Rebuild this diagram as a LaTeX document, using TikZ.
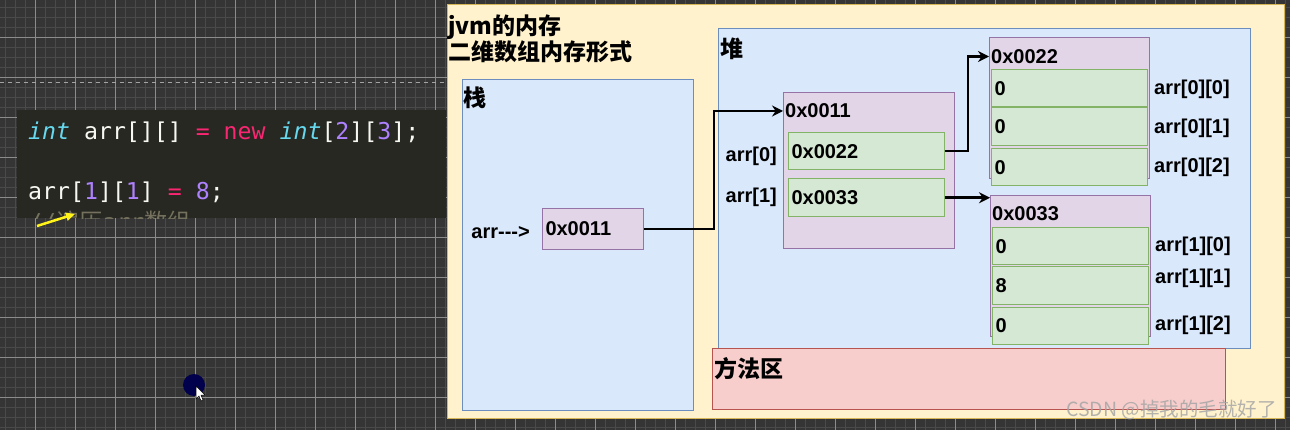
\documentclass[tikz,border=0pt]{standalone}
\usepackage{fontspec}
\setmainfont{Liberation Sans}
\setmonofont{DejaVu Sans Mono}
\newfontfamily\cjk{Noto Sans CJK SC}
\usetikzlibrary{positioning,arrows.meta}
\definecolor{canvas}{HTML}{353535}
\definecolor{gridminor}{HTML}{4A4A4A}
\definecolor{gridmajor}{HTML}{8C8C8C}
\definecolor{editorbg}{HTML}{272822}
\definecolor{kwpink}{HTML}{F92672}
\definecolor{typecyan}{HTML}{66D9EF}
\definecolor{numpurple}{HTML}{AE81FF}
\definecolor{plaintext}{HTML}{F8F8F2}
\definecolor{commentgray}{HTML}{75715E}
\definecolor{memfill}{HTML}{FFF2CC}
\definecolor{memline}{HTML}{D6B656}
\definecolor{heapfill}{HTML}{DAE8FC}
\definecolor{heapline}{HTML}{6C8EBF}
\definecolor{objfill}{HTML}{E1D5E7}
\definecolor{objline}{HTML}{9673A6}
\definecolor{cellfill}{HTML}{D5E8D4}
\definecolor{cellline}{HTML}{82B366}
\definecolor{methfill}{HTML}{F8CECC}
\definecolor{methline}{HTML}{B85450}
\newcommand{\lblfont}{\bfseries\fontsize{20}{24}\selectfont}
\newcommand{\cnfont}{\cjk\bfseries\fontsize{23}{26}\selectfont}

\begin{document}
\begin{tikzpicture}[x=1pt, y=-1pt,
  area/.style={draw=#1line, fill=#1fill, line width=1pt, anchor=north west, inner sep=0pt},
  cell/.style={draw=cellline, fill=cellfill, line width=1pt, minimum height=37.5pt, text width=150pt, inner xsep=3pt, inner ysep=0pt, align=left, font=\lblfont},
  lbl/.style={font=\lblfont, inner sep=2pt},
  cn/.style={font=\cnfont, inner sep=0pt},
  code/.style={font=\ttfamily\fontsize{23.2}{28}\selectfont, text=plaintext, inner sep=0pt, anchor=base west},
  conn/.style={-{Stealth[length=11pt,width=11pt]}, line width=2.5pt}]
\useasboundingbox (0,0) rectangle (1290,430);
\fill[canvas] (0,0) rectangle (1290,430);
\foreach \gx in {5.5,15.5,...,1285.5} \draw[gridminor] (\gx,0) -- (\gx,430);
\foreach \gy in {7,17,...,427} \draw[gridminor] (0,\gy) -- (1290,\gy);
\foreach \gx in {35.5,75.5,...,1275.5} \draw[gridmajor] (\gx,0) -- (\gx,430);
\foreach \gy in {37,77,...,417} \draw[gridmajor] (0,\gy) -- (1290,\gy);
\draw[gridmajor!80!white, line width=1.5pt, dash pattern=on 4pt off 4pt] (0,82.5) -- (446,82.5);

\node[fill=editorbg, anchor=north west, minimum width=429pt, minimum height=108pt, inner sep=0pt] (editor) at (17,110) {};
\node[code] (ln1) at (28,139.5) {\textcolor{typecyan}{\itshape int} arr[][] \textcolor{kwpink}{=} \textcolor{kwpink}{new} \textcolor{typecyan}{\itshape int}[\textcolor{numpurple}{2}][\textcolor{numpurple}{3}];};
\node[code] (ln2) at (28,200) {arr[\textcolor{numpurple}{1}][\textcolor{numpurple}{1}] \textcolor{kwpink}{=} \textcolor{numpurple}{8};};
\begin{scope}
\clip (editor.north west) rectangle (editor.south east);
\node[code, text=commentgray] (ln3) at (28,231) {//{\cjk 遍历}arr{\cjk 数组}};
\end{scope}
\coordinate (ys) at (37,226);
\coordinate (ye) at (75,214);
\draw[yellow!90!white, line width=2.5pt, -{Triangle[length=9pt,width=8pt]}] (ys) -- (ye);
\fill[blue!30!black] (194,385) circle (11);
\draw[black, fill=white, line width=0.5pt] (196,386) -- (196,399) -- (199,396) -- (201,401) -- (203,400) -- (201,395) -- (205,395) -- cycle;

\node[area=mem, minimum width=837pt, minimum height=414pt] (mem) at (447,4) {};
\node[cn, anchor=north west, align=left] (title) at (448,15) {jvm的内存\\二维数组内存形式};

\node[area=heap, minimum width=231pt, minimum height=331pt] (stack) at (462,79) {};
\node[cn, anchor=west] (stacklbl) at (463,98) {栈};
\node[area=obj, minimum width=101pt, minimum height=41pt, text width=95pt, inner xsep=3pt, align=left, font=\lblfont] (sref) at (542,208) {0x0011};
\node[lbl, left=10pt of sref, yshift=-4pt] (arrname) {arr{-}{-}{-}>};

\node[area=heap, minimum width=532pt, minimum height=320pt] (heap) at (718,28) {};
\node[cn, anchor=west] (heaplbl) at (720,48.5) {堆};
\node[area=meth, minimum width=513pt, minimum height=61pt] (meth) at (712,348) {};
\node[cn, anchor=west] (methlbl) at (714,368.5) {方法区};

\node[area=obj, minimum width=171pt, minimum height=156pt] (a11) at (783,92) {};
\node[lbl, anchor=west] (l11) at (783,111) {0x0011};
\node[cell, anchor=north west] (c0) at (788,132) {0x0022};
\node[cell, below=8pt of c0] (c1) {0x0033};
\node[lbl, left=9pt of c0, yshift=-5pt] (n0) {arr[0]};
\node[lbl, left=9pt of c1] (n1) {arr[1]};

\node[area=obj, minimum width=160pt, minimum height=141pt] (a22) at (989,37) {};
\node[lbl, anchor=west] (l22) at (989,56.5) {0x0022};
\node[cell, anchor=north west] (c00) at (991,69) {0};
\node[cell, below=0pt of c00] (c01) {0};
\node[cell, below=2pt of c01] (c02) {0};
\node[lbl, right=4pt of c00, yshift=-1.5pt] (n00) {arr[0][0]};
\node[lbl, right=4pt of c01, yshift=-1.5pt] (n01) {arr[0][1]};
\node[lbl, right=4pt of c02] (n02) {arr[0][2]};

\node[area=obj, minimum width=160pt, minimum height=141pt] (a33) at (990,195) {};
\node[lbl, anchor=west] (l33) at (990,214) {0x0033};
\node[cell, anchor=north west] (c10) at (992,227) {0};
\node[cell, below=0.5pt of c10] (c11) {8};
\node[cell, below=2pt of c11] (c12) {0};
\node[lbl, right=4pt of c10] (n10) {arr[1][0]};
\node[lbl, right=4pt of c11, yshift=7pt] (n11) {arr[1][1]};
\node[lbl, right=4pt of c12] (n12) {arr[1][2]};

\draw[conn] (sref.east) -- ++(70,0) |- (l11.west);
\draw[conn] (c0.east) -- ++(23,0) |- (l22.west);
\draw[conn] (c1.east) -- (c1.east -| a33.west);

\node[anchor=base east, text=black!35, opacity=0.85, font=\cjk\fontsize{19.5}{22}\selectfont, inner sep=0pt] (mark) at (1277,416) {CSDN @掉我的毛就好了};
\end{tikzpicture}
\end{document}
